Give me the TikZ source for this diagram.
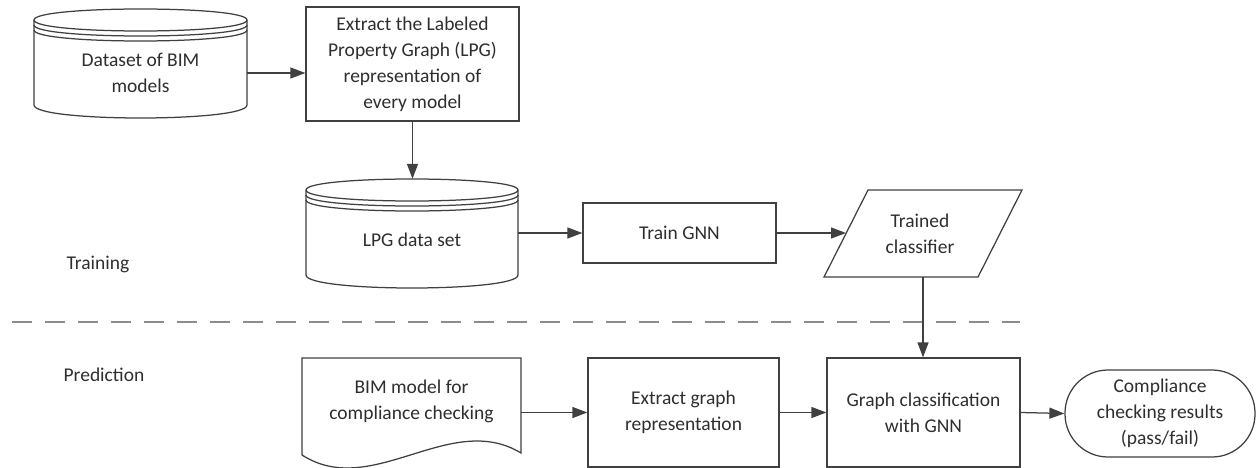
\documentclass[tikz,border=0pt]{standalone}
\usepackage{fontspec}
\setmainfont{Carlito}
\usetikzlibrary{arrows.meta}

% Data-store outline: #1 left, #2 right, #3 top, #4 bottom (y grows downward)
\newcommand\datastore[4]{%
  \pgfmathsetmacro\dsC{#3+11}%      centre of the top ellipse
  \pgfmathsetmacro\dsF{#3+11-14.667}% control above it
  \pgfmathsetmacro\dsG{#3+11+14.667}% control below it
  \pgfmathsetmacro\dsD{#4-13}%      where the sides end
  \pgfmathsetmacro\dsE{#4-13+17.333}% control of the bottom curve
  \filldraw[shapeline,fill=white]
    (#1,\dsC) -- (#1,\dsD) .. controls (#1,\dsE) and (#2,\dsE) .. (#2,\dsD)
    -- (#2,\dsC) .. controls (#2,\dsF) and (#1,\dsF) .. (#1,\dsC) -- cycle;
  \foreach \off in {0,5,10}{%
    \draw[shapeline] (#1,\dsC+\off) .. controls (#1,\dsG+\off) and (#2,\dsG+\off) .. (#2,\dsC+\off);
  }%
}

\begin{document}
\begin{tikzpicture}[x=1pt,y=-1pt,
  shapeline/.style={line width=1.25pt,draw=black!75},
  txt/.style={font=\fontsize{19.5}{26}\selectfont,align=center,text=black!82,inner sep=0pt},
  procbox/.style={txt,shapeline,fill=white,rectangle},
  arr/.style={line width=1.25pt,draw=black!75,-{Triangle[length=15pt,width=11pt]}},
  sep/.style={line width=2.6pt,draw=black!45,dash pattern=on 20pt off 13pt}
]
\useasboundingbox (0,0) rectangle (1257,468);

% phase separator and labels
\draw[sep] (12,322) -- (1020,322);
\node[txt] (train-lbl) at (98,264) {Training};
\node[txt] (pred-lbl) at (104,375) {Prediction};

% ---- training row ----
\datastore{34}{247}{9}{118}
\node[txt,minimum width=213pt] (ds) at (140.5,73) {Dataset of BIM\\models};

\node[procbox,minimum width=213pt,minimum height=114pt] (ext) at (412.5,64)
  {Extract the Labeled\\Property Graph (LPG)\\representation of\\every model};

\datastore{306}{518}{179}{288}
\node[txt,minimum width=212pt,minimum height=122pt] (lpg) at (412,240) {LPG data set};

\node[procbox,minimum width=193pt,minimum height=60pt] (train) at (679.5,233) {Train GNN};

% trained classifier (data parallelogram)
\filldraw[shapeline,fill=white] (868,190) -- (1022,190) -- (978,277) -- (824,277) -- cycle;
\node[txt] (cls) at (920,233.5) {Trained\\classifier};
\coordinate (clsL) at (846,233);
\coordinate (clsB) at (923,277);

% ---- prediction row ----
\filldraw[shapeline,fill=white] (302,358) -- (521,358) -- (521,453)
  .. controls (450,410) and (372,500) .. (302,455) -- cycle;
\node[txt,minimum width=219pt] (doc) at (411.5,401) {BIM model for\\compliance checking};

\node[procbox,minimum width=191pt,minimum height=109pt] (exg) at (683.5,412.5)
  {Extract graph\\representation};
\node[procbox,minimum width=193pt,minimum height=109pt] (gc) at (923.5,412.5)
  {Graph classification\\with GNN};
\node[procbox,minimum width=190pt,minimum height=87pt,rounded corners=43pt] (res) at (1160,413.5)
  {Compliance\\checking results\\(pass/fail)};

% ---- connectors ----
\draw[arr] (ds.east) -- (ds.east -| ext.west);
\draw[arr] (ext.south) -- (ext.south |- lpg.north);
\draw[arr] (lpg.east |- train.west) -- (train.west);
\draw[arr] (train.east) -- (clsL);
\draw[arr] (clsB) -- (clsB |- gc.north);
\draw[arr] (doc.east |- exg.west) -- (exg.west);
\draw[arr] (exg.east) -- (gc.west);
\draw[arr] (gc.east) -- (res.west);
\end{tikzpicture}
\end{document}
